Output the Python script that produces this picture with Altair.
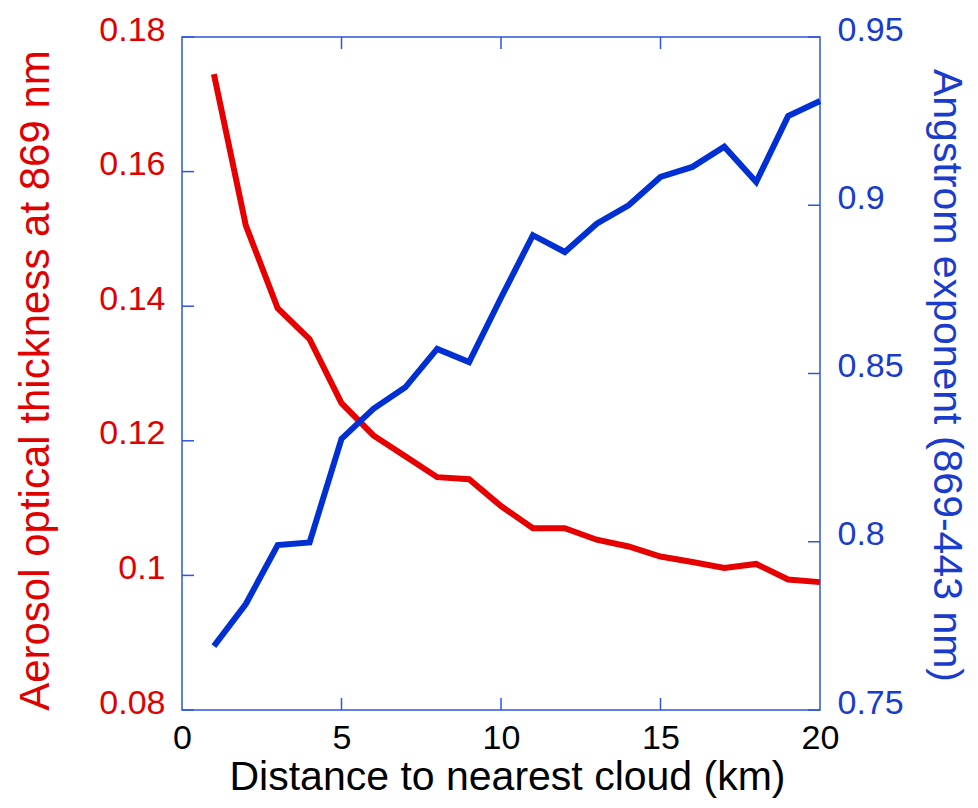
import altair as alt
import pandas as pd

# ---- data ----
distance = list(range(1, 21))
aot_869 = [0.1745, 0.1520, 0.1397, 0.1351, 0.1256, 0.1208, 0.1177, 0.1146, 0.1143, 0.1103,
           0.1070, 0.1070, 0.1053, 0.1043, 0.1028, 0.1020, 0.1011, 0.1017, 0.0994, 0.0990]
angstrom = [0.7690, 0.7815, 0.7990, 0.7998, 0.8306, 0.8395, 0.8459, 0.8573, 0.8534, 0.8725,
            0.8911, 0.8861, 0.8945, 0.9000, 0.9084, 0.9114, 0.9174, 0.9069, 0.9265, 0.9310]
x_ticks = [0, 5, 10, 15, 20]
x_inner_ticks = [5, 10, 15]
aot_ticks = [0.08, 0.10, 0.12, 0.14, 0.16, 0.18]
ang_ticks = [0.75, 0.80, 0.85, 0.90, 0.95]

W, H = 638, 673
FONT = "Liberation Sans"
RED_LINE = "#e60000"
RED_TEXT = "#e00000"
BLUE_LINE = "#0030d4"
BLUE_TEXT = "#1a3ccc"
FRAME = "#2d55e0"

df = pd.DataFrame({"d": distance, "aot": aot_869, "ang": angstrom})
xdf = pd.DataFrame({"v": x_inner_ticks})
ldf = pd.DataFrame({"v": aot_ticks})
rdf = pd.DataFrame({"v": ang_ticks})

xscale = alt.Scale(domain=[0, 20], nice=False, zero=False)
yl = alt.Scale(domain=[0.08, 0.18], nice=False, zero=False)
yr = alt.Scale(domain=[0.75, 0.95], nice=False, zero=False)

x_axis = alt.Axis(orient="bottom", values=x_ticks, title="Distance to nearest cloud (km)", format="d",
                  labelColor="black", labelFontSize=34, labelPadding=11, labelFlush=False,
                  labelFont=FONT, titleFont=FONT, titleFontSize=41, titleFontWeight="normal",
                  titleColor="black", titleX=325, titleY=79, titleBaseline="alphabetic",
                  titleAlign="center", ticks=False, domain=False, grid=False)

left_axis = alt.Axis(orient="left", values=aot_ticks, format="~g",
                     title="Aerosol optical thickness at 869 nm",
                     labelColor=RED_TEXT, labelFontSize=34, labelPadding=17, labelOffset=-7,
                     labelFont=FONT, titleFont=FONT, titleFontSize=42, titleFontWeight="normal",
                     titleColor=RED_TEXT, titleAngle=270, titleX=-147, titleY=343,
                     titleBaseline="middle", titleAlign="center",
                     ticks=False, domain=False, grid=False)

right_axis = alt.Axis(orient="right", values=ang_ticks, format="~g",
                      title="Angstrom exponent (869-443 nm)",
                      labelColor=BLUE_TEXT, labelFontSize=34, labelPadding=17, labelOffset=-7,
                      labelFont=FONT, titleFont=FONT, titleFontSize=41, titleFontWeight="normal",
                      titleColor=BLUE_TEXT, titleAngle=90, titleX=125, titleY=338,
                      titleBaseline="middle", titleAlign="center",
                      ticks=False, domain=False, grid=False)

tick_len = 12

red = alt.Chart(df).mark_line(color=RED_LINE, strokeWidth=6).encode(
    x=alt.X("d:Q", scale=xscale, axis=x_axis),
    y=alt.Y("aot:Q", scale=yl, axis=left_axis))
blue = alt.Chart(df).mark_line(color=BLUE_LINE, strokeWidth=6).encode(
    x=alt.X("d:Q", scale=xscale, axis=x_axis),
    y=alt.Y("ang:Q", scale=yr, axis=right_axis))

bottom_ticks = alt.Chart(xdf).mark_rule(color=FRAME, strokeWidth=1.5).encode(
    x=alt.X("v:Q", scale=xscale, axis=x_axis),
    y=alt.value(H - tick_len), y2=alt.value(H))
top_ticks = alt.Chart(xdf).mark_rule(color=FRAME, strokeWidth=1.5).encode(
    x=alt.X("v:Q", scale=xscale, axis=x_axis),
    y=alt.value(0), y2=alt.value(tick_len))
left_ticks = alt.Chart(ldf).mark_rule(color=FRAME, strokeWidth=1.5).encode(
    y=alt.Y("v:Q", scale=yl, axis=None),
    x=alt.value(0), x2=alt.value(tick_len))
right_ticks = alt.Chart(rdf).mark_rule(color=FRAME, strokeWidth=1.5).encode(
    y=alt.Y("v:Q", scale=yr, axis=None),
    x=alt.value(W - tick_len), x2=alt.value(W))

chart = alt.layer(red, left_ticks, blue, right_ticks, bottom_ticks, top_ticks).resolve_scale(
    y="independent"
).properties(
    width=W, height=H,
    background="white",
    autosize=alt.AutoSizeParams(type="none"),
    padding={"left": 174, "top": 29, "right": 150, "bottom": 90},
).configure_view(
    stroke=FRAME, strokeWidth=1.5
)

chart.save("out.html", embed_options={"renderer": "svg", "actions": False})
